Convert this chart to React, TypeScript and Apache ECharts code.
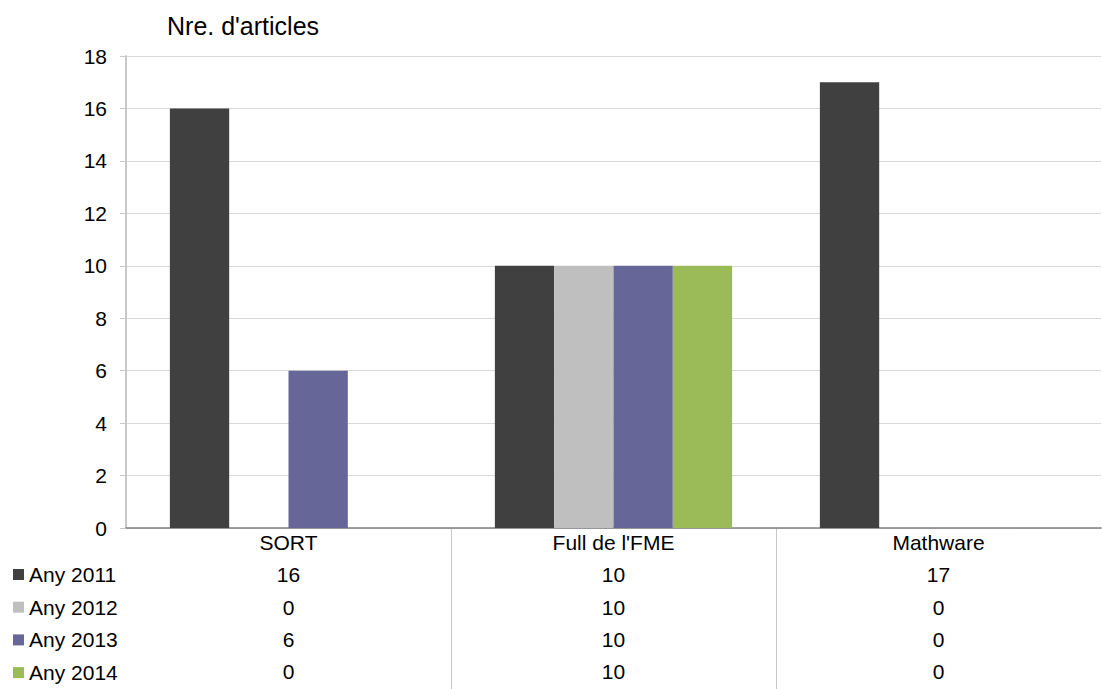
import React, { useEffect, useRef } from "react";
import * as echarts from "echarts";

const categories = ["SORT", "Full de l'FME", "Mathware"];
const seriesNames = ["Any 2011", "Any 2012", "Any 2013", "Any 2014"];
const any2011 = [16, 10, 17];
const any2012 = [0, 10, 0];
const any2013 = [6, 10, 0];
const any2014 = [0, 10, 0];
const seriesValues = [any2011, any2012, any2013, any2014];
const colors = ["#404040", "#bfbfbf", "#666699", "#9bbb59"];
const yTicks = [0, 2, 4, 6, 8, 10, 12, 14, 16, 18];

const FONT = "'Liberation Sans', Arial, sans-serif";

export default function App() {
  const ref = useRef<HTMLDivElement>(null);
  useEffect(() => {
    if (!ref.current) return;
    const chart = echarts.init(ref.current, null, { renderer: "svg" });
    const option: any = {
      animation: false,
      backgroundColor: "#ffffff",
      textStyle: { fontFamily: FONT },
      title: {
        text: "Nre. d'articles",
        left: 162,
        top: 8,
        padding: 5,
        textStyle: { fontFamily: FONT, fontSize: 25, fontWeight: "normal", color: "#000" },
      },
      legend: {
        orient: "vertical",
        left: 13,
        top: 564,
        padding: 0,
        itemGap: 11.7,
        itemWidth: 11,
        itemHeight: 11,
        icon: "rect",
        data: seriesNames,
        textStyle: { fontFamily: FONT, fontSize: 21, color: "#000", lineHeight: 20 },
        selectedMode: false,
      },
      grid: { left: 126, right: 1, top: 56, bottom: 161, containLabel: false },
      xAxis: {
        type: "category",
        data: categories,
        axisLine: { show: true, lineStyle: { color: "#7f7f7f", width: 1.5 } },
        axisTick: { show: false },
        axisLabel: {
          interval: 0,
          margin: -1.5,
          fontFamily: FONT,
          fontSize: 21,
          lineHeight: 32.2,
          color: "#000",
          formatter: (value: string, index: number) =>
            [value, ...seriesValues.map((s) => String(s[index]))].join("\n"),
        },
      },
      yAxis: {
        type: "value",
        min: yTicks[0],
        max: yTicks[yTicks.length - 1],
        interval: 2,
        axisLine: { show: true, lineStyle: { color: "#c8c8c8", width: 2 } },
        axisTick: { show: true, length: 6, lineStyle: { color: "#c8c8c8" } },
        axisLabel: { margin: 19, fontFamily: FONT, fontSize: 21, color: "#000" },
        splitLine: { show: true, lineStyle: { color: "#d9d9d9", width: 1 } },
      },
      series: seriesNames.map((name, i) => ({
        name,
        type: "bar",
        data: seriesValues[i],
        barGap: "0%",
        barCategoryGap: "27%",
        itemStyle: { color: colors[i] },
      })),
    };
    chart.setOption(option);

    // Table separators between categories, placed through the axis scale
    const centers = categories.map((c) => chart.convertToPixel({ xAxisIndex: 0 }, c) as number);
    const bottomY = chart.convertToPixel({ yAxisIndex: 0 }, 0) as number;
    const lines: any[] = [];
    for (let i = 0; i < centers.length - 1; i++) {
      const x = Math.round((centers[i] + centers[i + 1]) / 2) + 0.5;
      lines.push({
        type: "line",
        shape: { x1: x, y1: bottomY, x2: x, y2: 689 },
        style: { stroke: "#c8c8c8", lineWidth: 1 },
        silent: true,
      });
    }
    chart.setOption({ graphic: lines });

    return () => chart.dispose();
  }, []);
  return (
    <div
      ref={ref}
      style={{ position: "fixed", left: 0, top: 0, width: 1102, height: 689, background: "#fff" }}
    />
  );
}
